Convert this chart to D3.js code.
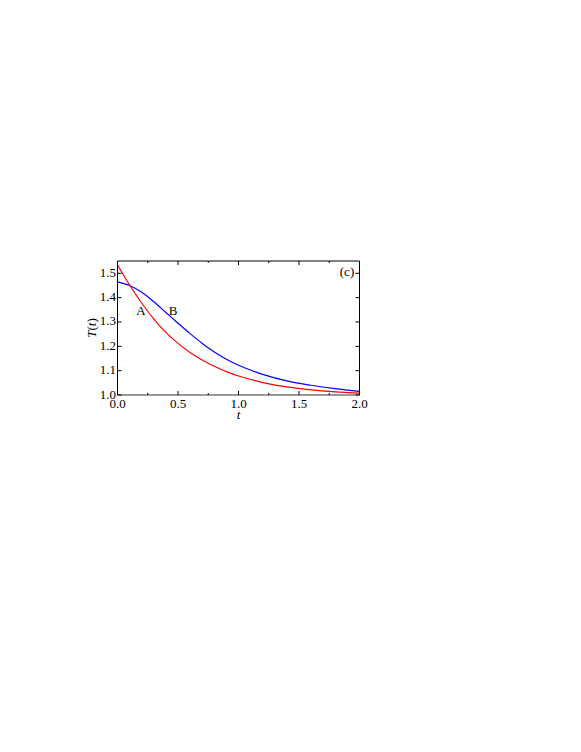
<!DOCTYPE html>
<meta charset="utf-8">
<style>
body { margin: 0; background: #fff; }
text { font-family: "Liberation Serif", "DejaVu Serif", serif; font-size: 13px; fill: #000; }
</style>
<svg width="581" height="752"></svg>
<script src="https://d3js.org/d3.v7.min.js"></script>
<script>

// values
var tA = [0, 0.1, 0.2, 0.3, 0.4, 0.5, 0.6, 0.7, 0.8, 0.9, 1.0, 1.2, 1.4, 1.6, 1.8, 2.0];
var curveA = [1.534, 1.452, 1.378, 1.312, 1.257, 1.212, 1.175, 1.144, 1.118, 1.096, 1.078, 1.051, 1.033, 1.021, 1.013, 1.008];
var tB = [0, 0.1, 0.2, 0.3, 0.4, 0.5, 0.6, 0.7, 0.8, 0.9, 1.0, 1.2, 1.4, 1.6, 1.8, 2.0];
var curveB = [1.465, 1.450, 1.422, 1.383, 1.339, 1.295, 1.252, 1.212, 1.177, 1.147, 1.122, 1.085, 1.058, 1.040, 1.026, 1.015];
var xTicks = [0, 0.5, 1.0, 1.5, 2.0];
var xMinor = [0.25, 0.75, 1.25, 1.75];
var yTicks = [1.0, 1.1, 1.2, 1.3, 1.4, 1.5];

var svg = d3.select("svg");
var x0 = 117.5, x1 = 359.5, y0 = 261, y1 = 395;

var x = d3.scaleLinear().domain([0, 2]).range([x0, x1]);
var y = d3.scaleLinear().domain([1.0, 1.5]).range([y1, 273.3]);

var line = d3.line()
    .x(function(d) { return x(d[0]); })
    .y(function(d) { return y(d[1]); })
    .curve(d3.curveCatmullRom);

var g = svg.append("g");

// curves
g.append("path")
    .attr("d", line(d3.zip(tB, curveB)))
    .attr("fill", "none").attr("stroke", "#0000ff").attr("stroke-width", 1.2);
g.append("path")
    .attr("d", line(d3.zip(tA, curveA)))
    .attr("fill", "none").attr("stroke", "#ff0000").attr("stroke-width", 1.2);

// frame
g.append("line").attr("x1", x0).attr("x2", x1).attr("y1", y0).attr("y2", y0)
    .attr("stroke", "#000").attr("stroke-width", 1);
g.append("line").attr("x1", x0).attr("x2", x0).attr("y1", y0).attr("y2", y1)
    .attr("stroke", "#000").attr("stroke-width", 1);
g.append("line").attr("x1", x1).attr("x2", x1).attr("y1", y0).attr("y2", y1)
    .attr("stroke", "#000").attr("stroke-width", 1);
g.append("line").attr("x1", x0).attr("x2", x1).attr("y1", y1).attr("y2", y1)
    .attr("stroke", "#999").attr("stroke-width", 2);

// x ticks (inward, top and bottom)
xTicks.forEach(function(v) {
  g.append("line").attr("x1", x(v)).attr("x2", x(v)).attr("y1", y1).attr("y2", y1 - 4)
      .attr("stroke", "#000");
  g.append("line").attr("x1", x(v)).attr("x2", x(v)).attr("y1", y0).attr("y2", y0 + 4)
      .attr("stroke", "#000");
  g.append("text").attr("x", x(v)).attr("y", 408)
      .attr("text-anchor", "middle").text(d3.format(".1f")(v));
});
xMinor.forEach(function(v) {
  g.append("line").attr("x1", x(v)).attr("x2", x(v)).attr("y1", y1).attr("y2", y1 - 2)
      .attr("stroke", "#000");
  g.append("line").attr("x1", x(v)).attr("x2", x(v)).attr("y1", y0).attr("y2", y0 + 2)
      .attr("stroke", "#000");
});

// y ticks (inward, left and right)
yTicks.forEach(function(v) {
  g.append("line").attr("x1", x0).attr("x2", x0 + 4).attr("y1", y(v)).attr("y2", y(v))
      .attr("stroke", "#000");
  g.append("line").attr("x1", x1).attr("x2", x1 - 4).attr("y1", y(v)).attr("y2", y(v))
      .attr("stroke", "#000");
  g.append("text").attr("x", x0 - 1.5).attr("y", y(v) + 3.5)
      .attr("text-anchor", "end").text(d3.format(".1f")(v));
});

// axis titles
g.append("text").attr("x", x(1.0)).attr("y", 419).attr("text-anchor", "middle")
    .style("font-style", "italic").text("t");

var yl = g.append("text")
    .attr("transform", "translate(96," + ((y0 + y1) / 2) + ") rotate(-90)")
    .attr("text-anchor", "middle");
yl.append("tspan").style("font-style", "italic").text("T");
yl.append("tspan").text("(");
yl.append("tspan").style("font-style", "italic").text("t");
yl.append("tspan").text(")");

// labels
g.append("text").attr("x", 141).attr("y", 315).attr("text-anchor", "middle").text("A");
g.append("text").attr("x", 173).attr("y", 315).attr("text-anchor", "middle").text("B");
g.append("text").attr("x", 347).attr("y", 276).attr("text-anchor", "middle").text("(c)");

</script>
